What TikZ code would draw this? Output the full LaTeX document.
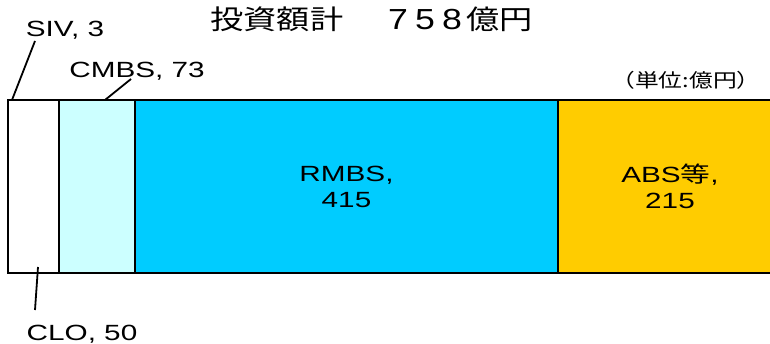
\documentclass[tikz,border=0pt]{standalone}
\usepackage{fontspec}
\usepackage{graphicx}
\setmainfont{Liberation Sans}
\newfontfamily\cjk{Noto Sans CJK JP}
\definecolor{cmbsc}{HTML}{CCFFFF}
\definecolor{rmbsc}{HTML}{00CCFF}
\definecolor{absc}{HTML}{FFCC00}
\newcommand\sx[1]{\scalebox{1.35}[1]{#1}}
\tikzset{
  seg/.style={draw=black, line width=2pt, inner sep=0pt, minimum height=173pt, align=center,
    font=\fontsize{22}{28}\selectfont},
  lbl/.style={inner sep=0pt, anchor=base, font=\fontsize{22}{26}\selectfont},
  leader/.style={draw=black, line width=1.8pt},
}
\begin{document}
\begin{tikzpicture}[x=1pt,y=-1pt]
\useasboundingbox (0,0) rectangle (770,344);
% segments
\node[seg, fill=white, minimum width=51pt] (clo) at (33.5,186.5) {};
\node[seg, fill=cmbsc, minimum width=76pt] (cmbs) at (97,186.5) {};
\node[seg, fill=rmbsc, minimum width=423pt] (rmbs) at (346.5,186.5) {\sx{RMBS,}\\[-2pt]\sx{415}};
\node[seg, fill=absc, minimum width=230pt] (abs) at (673,186.5) {};
\node[inner sep=0pt, align=center, font=\fontsize{22}{28}\selectfont] (abst) at (670,186.5) {\sx{ABS{\cjk 等},}\\[-2pt]\sx{215}};
% title and unit
\node[lbl, font=\fontsize{27}{27}\selectfont] (title) at (371.5,30) {\scalebox{1.23}[1]{{\cjk 投資額計}\hspace{1.35em}{\fontsize{29}{29}\selectfont 7\kern0.2em5\kern0.2em8}\kern0.12em{\cjk 億円}}};
\node[lbl, font=\fontsize{19}{19}\selectfont] (unit) at (686,88) {\scalebox{1.25}[1]{\cjk （単位:億円）}};
% labels
\node[lbl] (siv) at (65,37) {\sx{SIV, 3}};
\node[lbl] (cmbsl) at (137,78) {\sx{CMBS, 73}};
\node[lbl] (clol) at (82,340) {\sx{CLO, 50}};
% leader lines
\coordinate (sivA) at (35,41);
\coordinate (sivB) at (12,100);
\coordinate (cmbsA) at (131,79);
\coordinate (cmbsB) at (105,100);
\coordinate (cloA) at (38,267);
\coordinate (cloB) at (35,310);
\draw[leader] (sivA) -- (sivB);
\draw[leader] (cmbsA) -- (cmbsB);
\draw[leader] (cloA) -- (cloB);
\end{tikzpicture}
\end{document}
